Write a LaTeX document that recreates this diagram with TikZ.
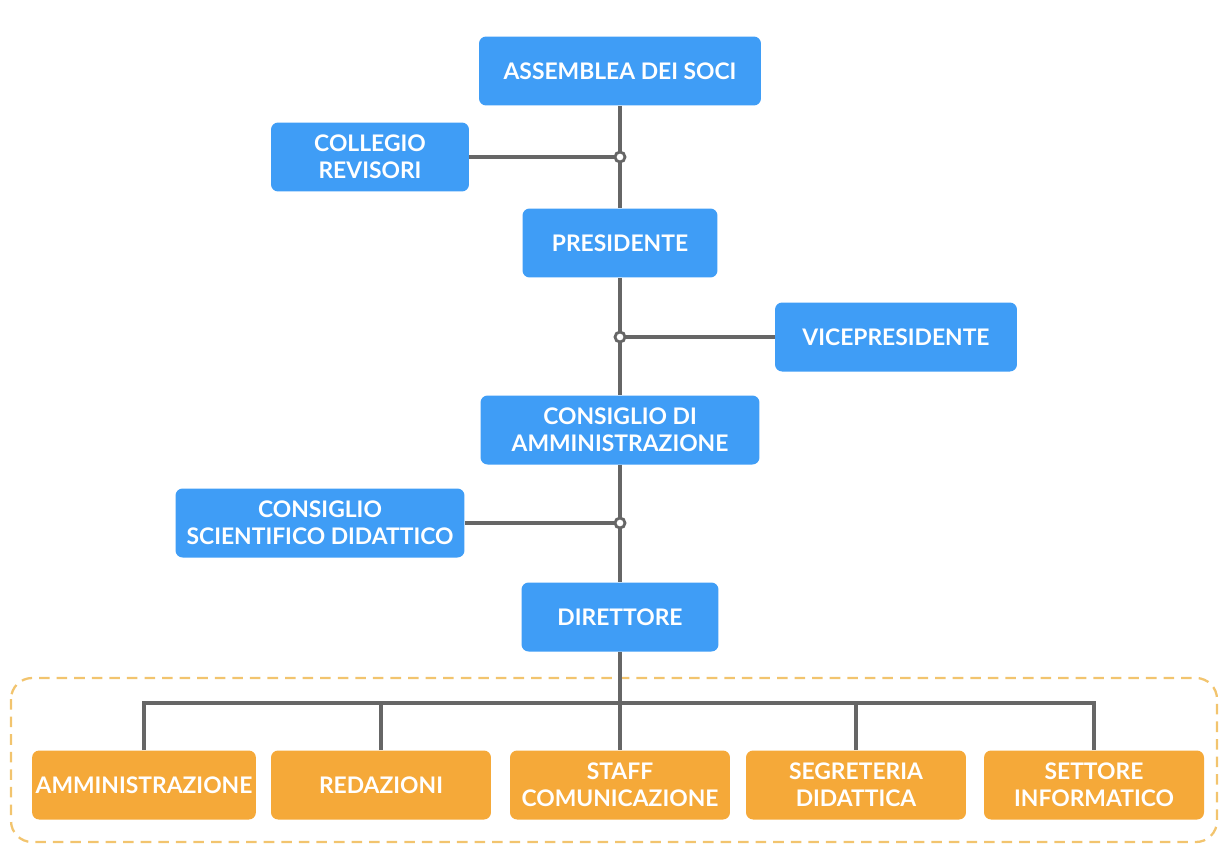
\documentclass[tikz,border=0pt]{standalone}
\usepackage{fontspec}
\setmainfont{Lato}
\usetikzlibrary{positioning}

\definecolor{orgblue}{HTML}{3F9DF6}
\definecolor{orgorange}{HTML}{F5A939}
\definecolor{orgline}{HTML}{666666}
\definecolor{orgdash}{HTML}{F2C46E}

\begin{document}
\begin{tikzpicture}[x=0.02cm, y=-0.02cm,
    box/.style={rectangle, rounded corners=4pt, fill=orgblue, text=white,
        font=\bfseries\fontsize{13}{15.5}\selectfont, align=center,
        minimum height=1.38cm, inner sep=2pt},
    unit/.style={box, fill=orgorange, minimum width=4.4cm},
    link/.style={draw=orgline, line width=2.2pt},
    joint/.style={circle, draw=orgline, fill=white, line width=1.6pt,
        inner sep=0pt, minimum size=0.2cm}]
    \useasboundingbox (0,0) rectangle (1219,845);

    % Nodes
    \node (assemblea) [box, minimum width=5.64cm] at (620,71) {ASSEMBLEA DEI SOCI};
    \node (collegio) [box, minimum width=3.96cm] at (370,157) {COLLEGIO\\REVISORI};
    \node (presidente) [box, minimum width=3.9cm] at (620,243) {PRESIDENTE};
    \node (vice) [box, minimum width=4.84cm] at (896,337) {VICEPRESIDENTE};
    \node (cda) [box, minimum width=5.58cm] at (620,430) {CONSIGLIO DI\\AMMINISTRAZIONE};
    \node (csd) [box, minimum width=5.78cm] at (320,523) {CONSIGLIO\\SCIENTIFICO DIDATTICO};
    \node (direttore) [box, minimum width=3.94cm] at (620,617) {DIRETTORE};

    \node (amm) [unit] at (144,785) {AMMINISTRAZIONE};
    \node (red) [unit] at (381,785) {REDAZIONI};
    \node (staff) [unit] at (620,785) {STAFF\\COMUNICAZIONE};
    \node (segr) [unit] at (856,785) {SEGRETERIA\\DIDATTICA};
    \node (sett) [unit] at (1094,785) {SETTORE\\INFORMATICO};

    % Dashed frame
    \draw[orgdash, line width=1.3pt, dashed, dash pattern=on 6pt off 4pt,
        rounded corners=12pt] (11,678) rectangle (1217,842);

    % Junctions
    \coordinate (j1) at (620,157);
    \coordinate (j2) at (620,337);
    \coordinate (j3) at (620,523);
    \coordinate (bus) at (620,703);

    % Arrows
    \draw[link] (assemblea) -- (presidente);
    \draw[link] (presidente) -- (cda);
    \draw[link] (cda) -- (direttore);
    \draw[link] (collegio) -- (j1);
    \draw[link] (vice) -- (j2);
    \draw[link] (csd) -- (j3);
    \draw[link] (direttore) -- (staff);
    \draw[link] (amm.north) |- (bus);
    \draw[link] (sett.north) |- (bus);
    \draw[link] (red.north) -- (red.north |- bus);
    \draw[link] (segr.north) -- (segr.north |- bus);

    \node (k1) [joint] at (j1) {};
    \node (k2) [joint] at (j2) {};
    \node (k3) [joint] at (j3) {};
\end{tikzpicture}
\end{document}
